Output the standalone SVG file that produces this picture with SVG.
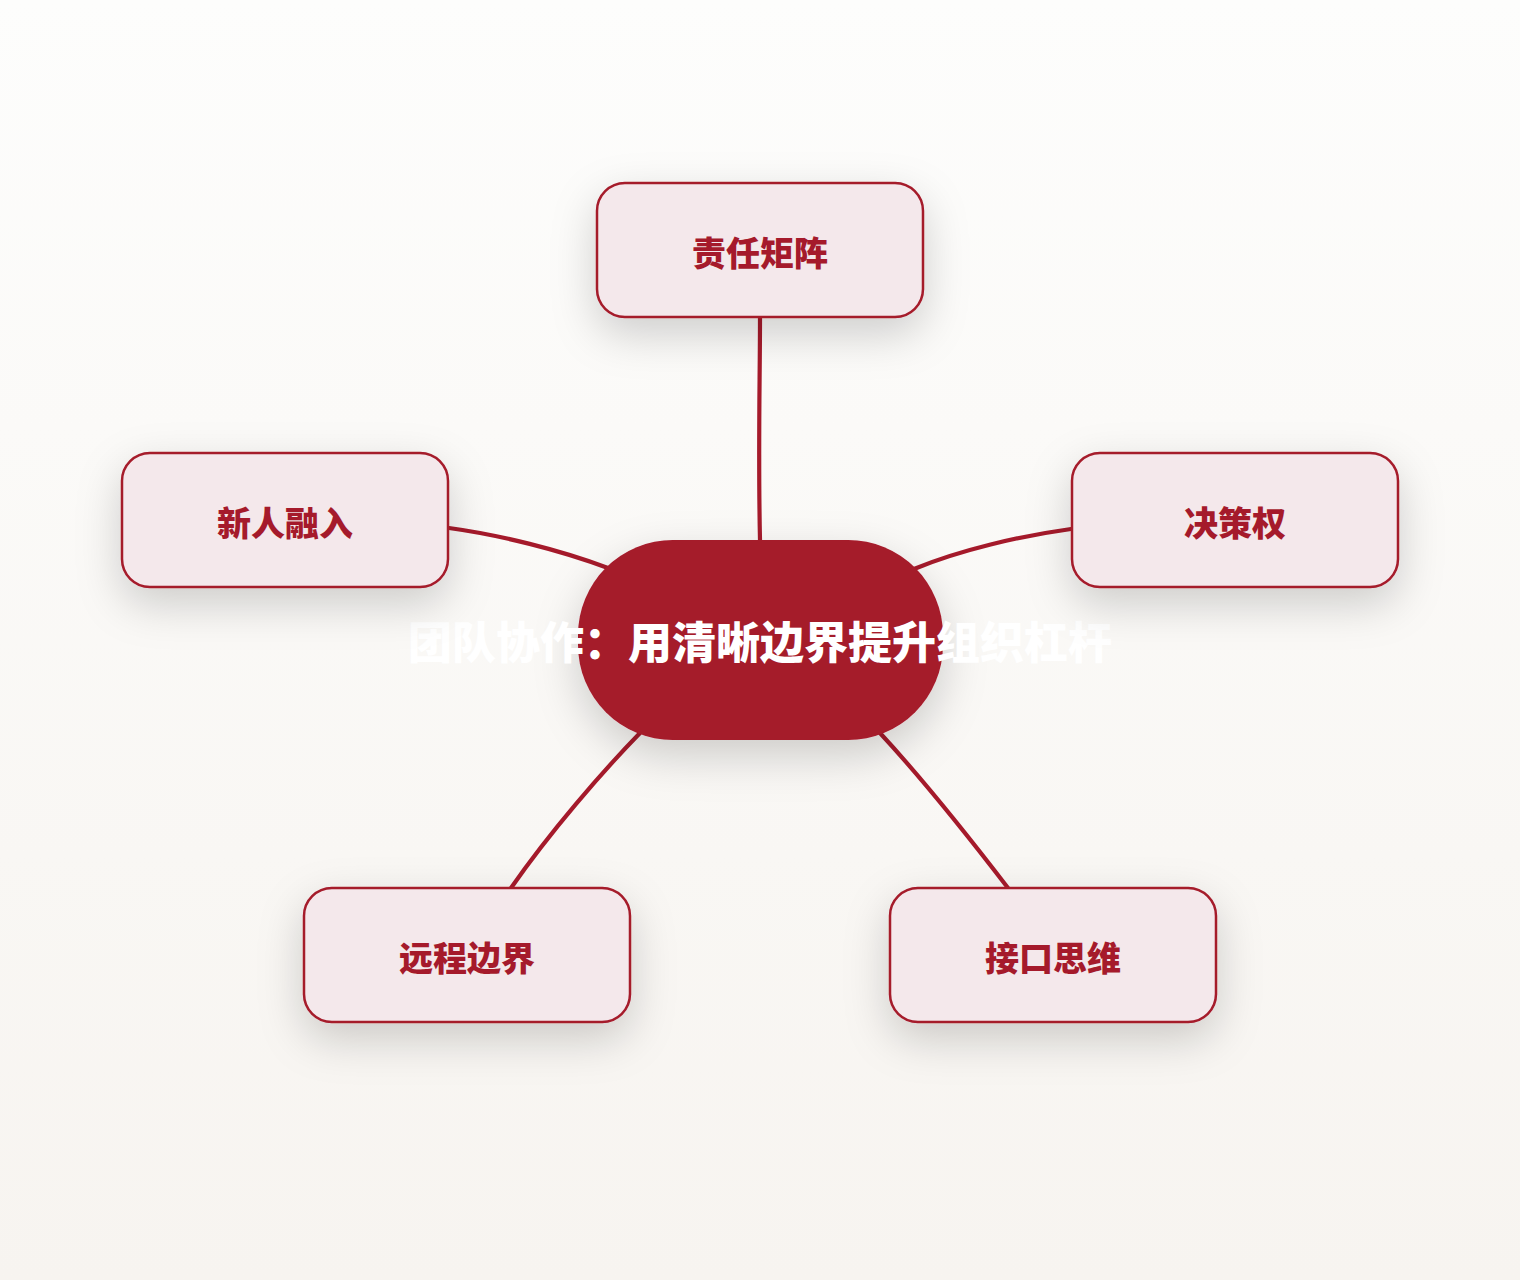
<svg xmlns="http://www.w3.org/2000/svg" width="1520" height="1280" viewBox="0 0 1520 1280">
  <defs>
    <linearGradient id="bg" x1="0" y1="0" x2="0" y2="1">
      <stop offset="0" stop-color="#FDFDFC"/>
      <stop offset="1" stop-color="#F7F4F0"/>
    </linearGradient>
    <filter id="shadow" x="-40%" y="-50%" width="180%" height="220%">
      <feDropShadow dx="0" dy="16" stdDeviation="22" flood-color="#000000" flood-opacity="0.18"/>
    </filter>
    <style>
      .node rect { fill: #F4E8EB; stroke: #A51A2B; stroke-width: 2.5; }
      .label { font-family: "Noto Sans CJK SC", "Noto Sans", sans-serif; font-weight: 900; font-size: 34px; fill: #A51A2B; text-anchor: middle; }
      .center rect { fill: #A51A2B; }
      .title { font-family: "Noto Sans CJK SC", "Noto Sans", sans-serif; font-weight: 900; font-size: 44px; fill: #FFFFFF; text-anchor: middle; }
      .edge { fill: none; stroke: #A51A2B; stroke-width: 4.2; stroke-linecap: round; }
    </style>
  </defs>
  <rect x="0" y="0" width="1520" height="1280" fill="url(#bg)"/>

  <g id="connectors">
    <path class="edge" d="M760 317 C760 380 758 450 760 540"/>
    <path class="edge" d="M449 528 C500 535 560 550 608 568"/>
    <path class="edge" d="M1071 529 C1020 536 960 550 914 569"/>
    <path class="edge" d="M640 733 C602 772 550 832 511 888"/>
    <path class="edge" d="M880 733 C918 774 965 832 1008 888"/>
  </g>

  <g id="node-center" class="center">
    <rect x="578" y="540" width="365" height="200" rx="95" ry="95" filter="url(#shadow)"/>
    <text class="title" x="760" y="659">团队协作：用清晰边界提升组织杠杆</text>
  </g>

  <g id="node-zeren" class="node">
    <rect x="597" y="183" width="326" height="134" rx="28" ry="28" filter="url(#shadow)"/>
    <text class="label" x="760" y="266">责任矩阵</text>
  </g>

  <g id="node-xinren" class="node">
    <rect x="122" y="453" width="326" height="134" rx="28" ry="28" filter="url(#shadow)"/>
    <text class="label" x="285" y="536">新人融入</text>
  </g>

  <g id="node-juece" class="node">
    <rect x="1072" y="453" width="326" height="134" rx="28" ry="28" filter="url(#shadow)"/>
    <text class="label" x="1235" y="536">决策权</text>
  </g>

  <g id="node-yuancheng" class="node">
    <rect x="304" y="888" width="326" height="134" rx="28" ry="28" filter="url(#shadow)"/>
    <text class="label" x="467" y="971">远程边界</text>
  </g>

  <g id="node-jiekou" class="node">
    <rect x="890" y="888" width="326" height="134" rx="28" ry="28" filter="url(#shadow)"/>
    <text class="label" x="1053" y="971">接口思维</text>
  </g>
</svg>
